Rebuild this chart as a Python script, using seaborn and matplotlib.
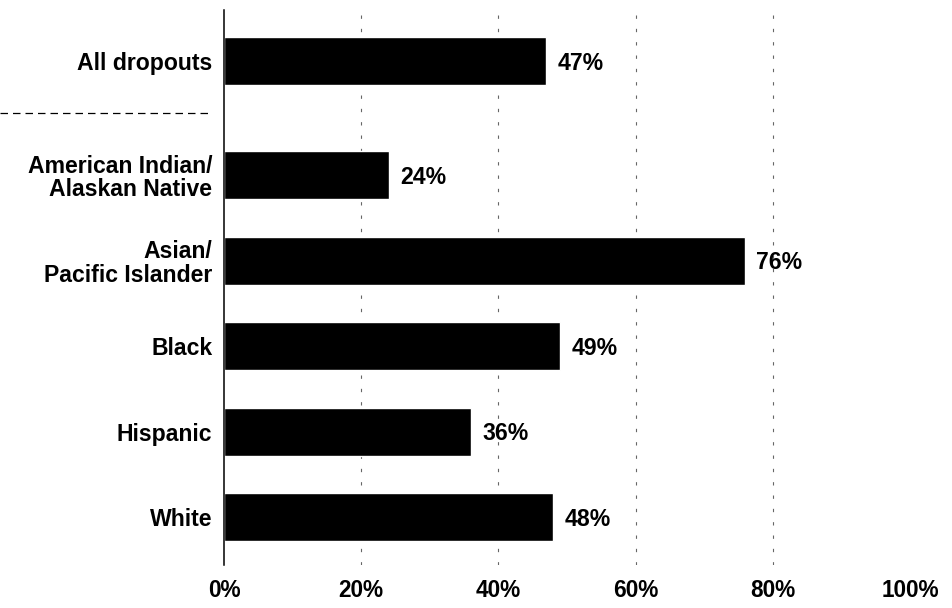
import matplotlib
matplotlib.use("Agg")
import matplotlib.pyplot as plt
import matplotlib.transforms as mtransforms
import pandas as pd
import seaborn as sns

# Share of dropouts, by group
categories = [
    "All dropouts",
    "American Indian/\nAlaskan Native",
    "Asian/\nPacific Islander",
    "Black",
    "Hispanic",
    "White",
]
values = [47, 24, 76, 49, 36, 48]
x_ticks = [0, 20, 40, 60, 80, 100]
x_tick_labels = ["0%", "20%", "40%", "60%", "80%", "100%"]

# Row layout: the overall row sits apart from the group rows
row_pos = [0.0, 1.33, 2.33, 3.33, 4.33, 5.33]
separator_y = 0.61

sns.set_theme(style="white")
plt.rcParams["font.family"] = ["Liberation Sans", "DejaVu Sans"]

df = pd.DataFrame({"group": categories, "value": values, "pos": row_pos})

fig = plt.figure(figsize=(9.52, 6.08), dpi=100)
ax = fig.add_axes([224 / 952, 1 - 565 / 608, (910 - 224) / 952, (565 - 10) / 608])

# gridlines at the inner ticks, drawn behind the bars
for t in x_ticks[1:-1]:
    ax.axvline(t, color="0.4", lw=0.8, ls=(0, (3, 9)), zorder=0)

sns.barplot(
    data=df, x="value", y="pos", orient="h", native_scale=True,
    color="black", width=0.56, saturation=1, ax=ax, zorder=2,
)

# value labels just past the end of each bar
for v, p in zip(df["value"], df["pos"]):
    ax.annotate(f"{v}%", xy=(v, p), xytext=(8, -1.5), textcoords="offset points",
                ha="left", va="center", fontsize=16.6, fontweight="bold",
                color="black")

ax.set_xlim(0, 100)
ax.set_ylim(5.89, -0.6)
ax.set_xticks(x_ticks)
ax.set_xticklabels(x_tick_labels, fontsize=16.3, fontweight="bold")
ax.set_yticks(row_pos)
ax.set_yticklabels(categories, fontsize=16.6, fontweight="bold")
for lab in ax.get_yticklabels():
    lab.set_linespacing(1.05)
ax.tick_params(axis="both", length=0, colors="black")
ax.tick_params(axis="y", pad=8.5)
ax.tick_params(axis="x", pad=10)
ax.set_xlabel("")
ax.set_ylabel("")

for side in ["top", "right", "bottom"]:
    ax.spines[side].set_visible(False)
ax.spines["left"].set_color("black")
ax.spines["left"].set_linewidth(1.1)

# dashed divider between the overall row and the group rows
trans = mtransforms.blended_transform_factory(fig.transFigure, ax.transData)
ax.plot([0.0, 210 / 952], [separator_y, separator_y], transform=trans,
        color="black", lw=0.9, ls=(0, (6, 4)), clip_on=False)

fig.savefig("out.png", dpi=100)
